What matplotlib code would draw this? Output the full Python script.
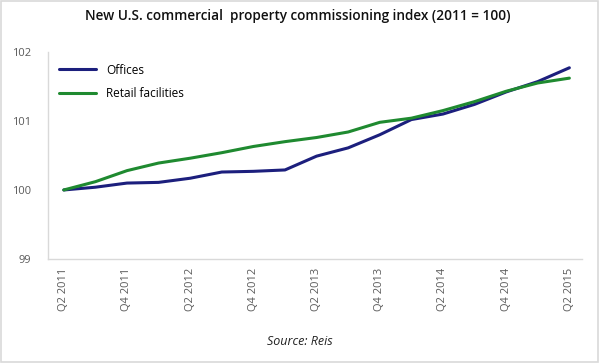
import matplotlib
matplotlib.use("Agg")
import matplotlib.pyplot as plt
from matplotlib.patches import Rectangle

plt.rcParams['font.family'] = ['Open Sans', 'DejaVu Sans']

quarters = ['Q2 2011', 'Q3 2011', 'Q4 2011', 'Q1 2012', 'Q2 2012', 'Q3 2012',
            'Q4 2012', 'Q1 2013', 'Q2 2013', 'Q3 2013', 'Q4 2013', 'Q1 2014',
            'Q2 2014', 'Q3 2014', 'Q4 2014', 'Q1 2015', 'Q2 2015']
offices = [100.00, 100.04, 100.10, 100.11, 100.17, 100.26, 100.27, 100.29, 100.49,
           100.61, 100.80, 101.02, 101.10, 101.24, 101.42, 101.57, 101.77]
retail = [100.00, 100.12, 100.28, 100.39, 100.46, 100.54, 100.63, 100.70, 100.76,
          100.84, 100.98, 101.04, 101.15, 101.28, 101.43, 101.55, 101.62]

fig = plt.figure(figsize=(6.0, 3.63), dpi=100)
ax = fig.add_axes([0.08, 0.2865, 0.89, 0.5705])

x = list(range(len(quarters)))
ax.plot(x, offices, color='#1c1f7d', lw=2.2, label='Offices', solid_capstyle='round')
ax.plot(x, retail, color='#1f8a30', lw=2.2, label='Retail facilities', solid_capstyle='round')

ax.set_xlim(-0.5, 16.4)
ax.set_ylim(99, 102)
ax.set_yticks([99, 100, 101, 102])
ax.set_xticks(x[::2])
ax.set_xticklabels(quarters[::2], rotation=90)
ax.tick_params(axis='both', length=0, colors='#5a5a5a', labelsize=8)
ax.tick_params(axis='y', pad=12)
ax.tick_params(axis='x', pad=6)

for s in ['top', 'right']:
    ax.spines[s].set_visible(False)
for s in ['left', 'bottom']:
    ax.spines[s].set_color('#d9d9d9')
    ax.spines[s].set_linewidth(1)

ax.legend(loc='upper left', frameon=False, fontsize=8.5, handlelength=3.2,
          labelspacing=0.9, bbox_to_anchor=(0.0, 0.995))

fig.text(0.497, 0.955, 'New U.S. commercial  property commissioning index (2011 = 100)',
         ha='center', va='center', fontsize=9.8, fontweight='semibold', color='#111111')
fig.text(0.5, 0.058, 'Source: Reis', ha='center', va='center', fontsize=9,
         style='italic', color='#222222')

fig.patches.append(Rectangle((0.002, 0.004), 0.994, 0.992, transform=fig.transFigure,
                             fill=False, edgecolor='#d9d9d9', lw=1.2))

fig.savefig('out.png', dpi=100)
